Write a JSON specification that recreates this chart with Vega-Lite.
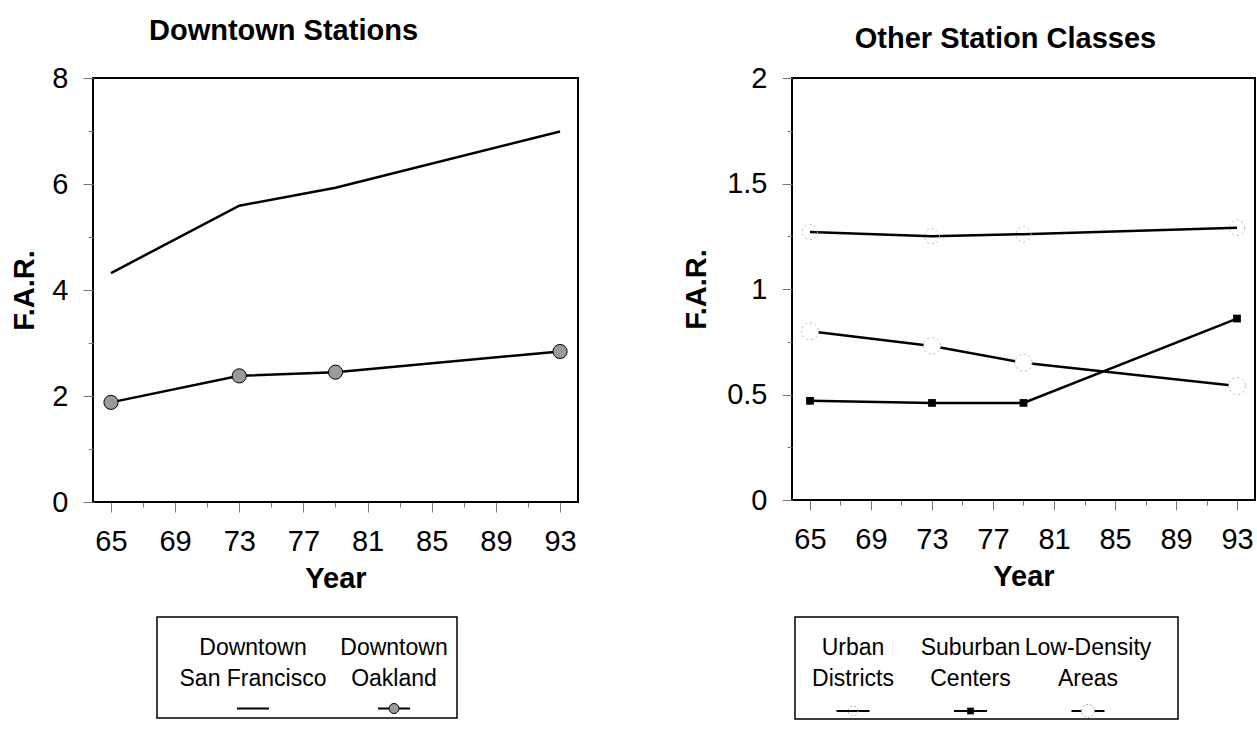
{
  "$schema": "https://vega.github.io/schema/vega-lite/v6.json",
  "background": "white",
  "padding": {"left": 9, "top": 16, "right": 0, "bottom": 0},
  "config": {
    "font": "Liberation Sans",
    "view": {"stroke": "black", "strokeWidth": 2},
    "axis": {
      "grid": false, "domain": false, "labelOverlap": false,
      "labelFont": "Liberation Sans", "labelFontSize": 29, "labelColor": "black",
      "titleFont": "Liberation Sans", "titleFontSize": 29, "titleFontWeight": "bold", "titleColor": "black",
      "tickColor": "#777", "tickSize": 10, "tickWidth": 1
    },
    "title": {"font": "Liberation Sans", "fontSize": 29, "fontWeight": "bold", "color": "black", "frame": "group"}
  },
  "datasets": {
    "downtown": [
      {"series": "Downtown San Francisco", "year": 65, "far": 4.32},
      {"series": "Downtown San Francisco", "year": 73, "far": 5.59},
      {"series": "Downtown San Francisco", "year": 79, "far": 5.93},
      {"series": "Downtown San Francisco", "year": 93, "far": 6.99},
      {"series": "Downtown Oakland", "year": 65, "far": 1.88},
      {"series": "Downtown Oakland", "year": 73, "far": 2.38},
      {"series": "Downtown Oakland", "year": 79, "far": 2.45},
      {"series": "Downtown Oakland", "year": 93, "far": 2.84}
    ],
    "other": [
      {"series": "Urban Districts", "year": 65, "far": 1.27},
      {"series": "Urban Districts", "year": 73, "far": 1.25},
      {"series": "Urban Districts", "year": 79, "far": 1.26},
      {"series": "Urban Districts", "year": 93, "far": 1.29},
      {"series": "Suburban Centers", "year": 65, "far": 0.47},
      {"series": "Suburban Centers", "year": 73, "far": 0.46},
      {"series": "Suburban Centers", "year": 79, "far": 0.46},
      {"series": "Suburban Centers", "year": 93, "far": 0.86},
      {"series": "Low-Density Areas", "year": 65, "far": 0.80},
      {"series": "Low-Density Areas", "year": 73, "far": 0.73},
      {"series": "Low-Density Areas", "year": 79, "far": 0.65},
      {"series": "Low-Density Areas", "year": 93, "far": 0.54}
    ],
    "legendDowntown": [
      {"series": "Downtown San Francisco", "label": "Downtown\nSan Francisco"},
      {"series": "Downtown Oakland", "label": "Downtown\nOakland"}
    ],
    "legendOther": [
      {"series": "Urban Districts", "label": "Urban\nDistricts"},
      {"series": "Suburban Centers", "label": "Suburban\nCenters"},
      {"series": "Low-Density Areas", "label": "Low-Density\nAreas"}
    ],
    "empty": []
  },
  "spacing": 102,
  "hconcat": [
    {
      "spacing": 22,
      "vconcat": [
        {
          "title": {"text": "Downtown Stations", "dx": -52, "offset": 18},
          "width": 485, "height": 424,
          "data": {"name": "downtown"},
          "encoding": {
            "x": {"field": "year", "type": "quantitative",
                  "scale": {"domain": [63.88, 94.12], "nice": false, "zero": false},
                  "axis": {"values": [65, 67, 69, 71, 73, 75, 77, 79, 81, 83, 85, 87, 89, 91, 93], "format": "d",
                           "labelExpr": "(datum.value - 65) % 4 === 0 ? datum.label : ''",
                           "tickSize": {"condition": {"test": "(datum.value - 65) % 4 === 0", "value": 10}, "value": 5},
                           "title": "Year", "labelPadding": 15, "titlePadding": 8}},
            "y": {"field": "far", "type": "quantitative",
                  "scale": {"domain": [0, 8], "nice": false},
                  "axis": {"values": [0, 1, 2, 3, 4, 5, 6, 7, 8], "format": "~g",
                           "labelExpr": "datum.value % 2 === 0 ? datum.label : ''",
                           "tickSize": {"condition": {"test": "datum.value % 2 === 0", "value": 10}, "value": 5},
                           "title": "F.A.R.", "labelPadding": 15, "titlePadding": 12}}
          },
          "layer": [
            {"mark": {"type": "line", "color": "black", "strokeWidth": 2.5},
             "encoding": {"detail": {"field": "series"}}},
            {"transform": [{"filter": "datum.series === 'Downtown Oakland'"}],
             "mark": {"type": "point", "shape": "circle", "filled": true, "fill": "#9a9a9a", "stroke": "black", "strokeWidth": 1, "size": 200, "opacity": 1}}
          ]
        },
        {
          "spacing": 0,
          "hconcat": [
            {
              "width": 63, "height": 101,
              "view": {"stroke": null},
              "data": {"name": "empty"},
              "mark": {"type": "point", "opacity": 0}
            },
            {
              "width": 300, "height": 101,
              "view": {"stroke": "black", "strokeWidth": 1.5},
              "data": {"name": "legendDowntown"},
              "encoding": {
                "x": {"field": "series", "type": "nominal", "sort": null,
                      "scale": {"type": "point", "range": [96, 237], "padding": 0}, "axis": null}
              },
              "layer": [
                {"mark": {"type": "text", "lineBreak": "\n", "fontSize": 23, "lineHeight": 31, "baseline": "middle", "dy": -20, "color": "black"},
                 "encoding": {"text": {"field": "label"}}},
                {"mark": {"type": "point", "shape": "stroke", "size": 1024, "strokeWidth": 2, "color": "black", "yOffset": 41, "opacity": 1}},
                {"transform": [{"filter": "datum.series === 'Downtown Oakland'"}],
                 "mark": {"type": "point", "shape": "circle", "filled": true, "fill": "#9a9a9a", "stroke": "black", "strokeWidth": 1, "size": 100, "yOffset": 41, "opacity": 1}}
              ]
            }
          ]
        }
      ]
    },
    {
      "spacing": 24,
      "vconcat": [
        {
          "title": {"text": "Other Station Classes", "dx": -18, "offset": 10},
          "width": 463, "height": 422,
          "data": {"name": "other"},
          "encoding": {
            "x": {"field": "year", "type": "quantitative",
                  "scale": {"domain": [63.82, 94.18], "nice": false, "zero": false},
                  "axis": {"values": [65, 67, 69, 71, 73, 75, 77, 79, 81, 83, 85, 87, 89, 91, 93], "format": "d",
                           "labelExpr": "(datum.value - 65) % 4 === 0 ? datum.label : ''",
                           "tickSize": {"condition": {"test": "(datum.value - 65) % 4 === 0", "value": 10}, "value": 5},
                           "title": "Year", "labelPadding": 15, "titlePadding": 8}},
            "y": {"field": "far", "type": "quantitative",
                  "scale": {"domain": [0, 2], "nice": false},
                  "axis": {"values": [0, 0.25, 0.5, 0.75, 1, 1.25, 1.5, 1.75, 2], "format": "~g",
                           "labelExpr": "(datum.value * 2) % 1 === 0 ? datum.label : ''",
                           "tickSize": {"condition": {"test": "(datum.value * 2) % 1 === 0", "value": 10}, "value": 5},
                           "title": "F.A.R.", "labelPadding": 15, "titlePadding": 15}}
          },
          "layer": [
            {"mark": {"type": "line", "color": "black", "strokeWidth": 2.5},
             "encoding": {"detail": {"field": "series"}}},
            {"transform": [{"filter": "datum.series === 'Urban Districts'"}],
             "mark": {"type": "point", "shape": "circle", "filled": false, "stroke": "#b5b5b5", "strokeDash": [2, 3], "strokeWidth": 1, "size": 230, "opacity": 1}},
            {"transform": [{"filter": "datum.series === 'Low-Density Areas'"}],
             "mark": {"type": "point", "shape": "circle", "filled": true, "fill": "white", "stroke": "#b5b5b5", "strokeDash": [2, 3], "strokeWidth": 1, "size": 290, "opacity": 1}},
            {"transform": [{"filter": "datum.series === 'Suburban Centers'"}],
             "mark": {"type": "point", "shape": "square", "filled": true, "color": "black", "size": 60, "opacity": 1}}
          ]
        },
        {
          "spacing": 0,
          "hconcat": [
            {
              "width": 2, "height": 102,
              "view": {"stroke": null},
              "data": {"name": "empty"},
              "mark": {"type": "point", "opacity": 0}
            },
            {
              "width": 383, "height": 102,
              "view": {"stroke": "black", "strokeWidth": 1.5},
              "data": {"name": "legendOther"},
              "encoding": {
                "x": {"field": "series", "type": "nominal", "sort": null,
                      "scale": {"type": "point", "range": [58, 293], "padding": 0}, "axis": null}
              },
              "layer": [
                {"mark": {"type": "text", "lineBreak": "\n", "fontSize": 23, "lineHeight": 31, "baseline": "middle", "dy": -20, "color": "black"},
                 "encoding": {"text": {"field": "label"}}},
                {"mark": {"type": "point", "shape": "stroke", "size": 1089, "strokeWidth": 2, "color": "black", "yOffset": 43, "opacity": 1}},
                {"transform": [{"filter": "datum.series === 'Urban Districts'"}],
                 "mark": {"type": "point", "shape": "circle", "filled": false, "stroke": "#aaa", "strokeDash": [2, 2], "strokeWidth": 1, "size": 100, "yOffset": 43, "opacity": 1}},
                {"transform": [{"filter": "datum.series === 'Suburban Centers'"}],
                 "mark": {"type": "point", "shape": "square", "filled": true, "color": "black", "size": 45, "yOffset": 43, "opacity": 1}},
                {"transform": [{"filter": "datum.series === 'Low-Density Areas'"}],
                 "mark": {"type": "point", "shape": "circle", "filled": true, "fill": "white", "stroke": "#aaa", "strokeDash": [2, 2], "strokeWidth": 1, "size": 170, "yOffset": 43, "opacity": 1}}
              ]
            }
          ]
        }
      ]
    }
  ]
}
